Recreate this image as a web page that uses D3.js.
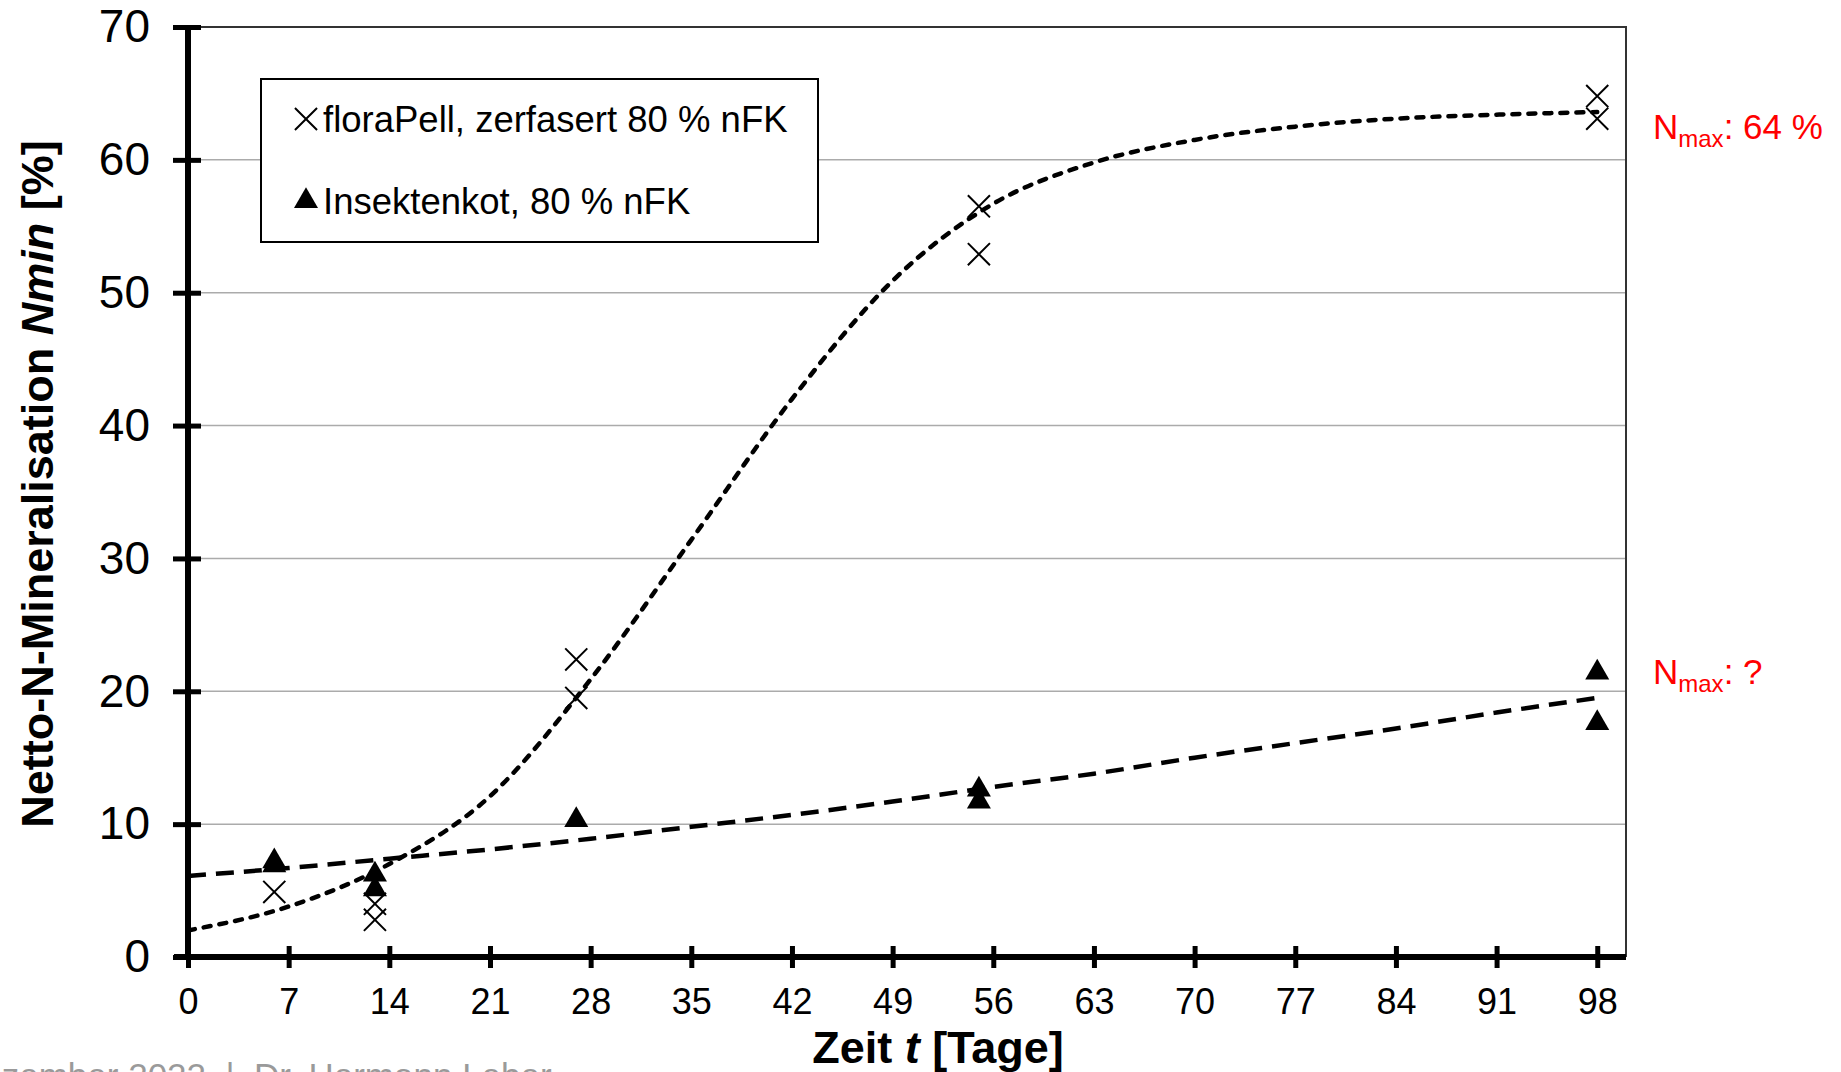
<!DOCTYPE html>
<html>
<head>
<meta charset="utf-8">
<script src="https://cdn.jsdelivr.net/npm/d3@7"></script>
<style>
  body { margin: 0; background: #fff; }
  svg { display: block; font-family: "Liberation Sans", Arial, sans-serif; }
</style>
</head>
<body>
<svg width="1841" height="1072"></svg>
<script>
// ---- Daten
const xTicks = [0, 7, 14, 21, 28, 35, 42, 49, 56, 63, 70, 77, 84, 91, 98];
const yTicks = [0, 10, 20, 30, 40, 50, 60, 70];

const floraDays   = [6, 13, 13, 27, 27, 55, 55, 98, 98];
const floraValues = [4.9, 4.0, 2.8, 22.4, 19.5, 56.5, 52.9, 64.8, 63.1];

const insektDays   = [6, 6, 13, 13, 27, 55, 55, 98, 98];
const insektValues = [7.2, 6.9, 6.2, 5.1, 10.3, 12.6, 11.7, 21.4, 17.6];

const fitDays    = [0, 7, 14, 21, 28, 35, 42, 49, 56, 63, 70, 77, 84, 91, 98];
const floraFit   = [2.0, 3.8, 7.0, 12.1, 20.9, 31.4, 42.0, 50.9, 56.7, 59.8, 61.5, 62.5, 63.1, 63.4, 63.6];
const insektFit  = [6.1, 6.7, 7.4, 8.1, 8.9, 9.8, 10.7, 11.7, 12.8, 13.8, 15.0, 16.1, 17.2, 18.4, 19.5];

const legendLabels = ['floraPell, zerfasert 80 % nFK', 'Insektenkot, 80 % nFK'];
const nmaxLabels = [': 64 %', ': ?'];
const nmaxValues = [64, 20];

const svg = d3.select('svg');
const margins = { left: 188, right: 215, top: 27, bottom: 115 };
const width = +svg.attr('width');
const height = +svg.attr('height');
const innerWidth = width - margins.left - margins.right;
const innerHeight = height - margins.top - margins.bottom;

// ---- Skalen
const mapX = d3.scaleLinear().domain([0, 100]).range([0, innerWidth]);
const mapY = d3.scaleLinear().domain([0, 70]).range([innerHeight, 0]);

const g = svg.append('g').attr('transform', `translate(${margins.left}, ${margins.top})`);

// ---- Gitterlinien
g.append('g')
  .selectAll('line')
  .data(yTicks.filter(v => v > 0 && v < 70))
  .enter().append('line')
  .attr('x1', 0).attr('x2', innerWidth)
  .attr('y1', d => mapY(d)).attr('y2', d => mapY(d))
  .attr('stroke', '#ababab').attr('stroke-width', 1.5);

// Rahmen oben/rechts
g.append('path')
  .attr('d', `M0,${mapY(70)}H${innerWidth}V${innerHeight}`)
  .attr('fill', 'none').attr('stroke', '#333').attr('stroke-width', 2);

// ---- Ausgleichskurven
const line = d3.line()
  .x(d => mapX(d[0]))
  .y(d => mapY(d[1]))
  .curve(d3.curveMonotoneX);

g.append('path')
  .datum(fitDays.map((d, i) => [d, insektFit[i]]))
  .attr('d', line)
  .attr('fill', 'none').attr('stroke', '#000')
  .attr('stroke-width', 4.5).attr('stroke-dasharray', '18,10');

g.append('path')
  .datum(fitDays.map((d, i) => [d, floraFit[i]]))
  .attr('d', line)
  .attr('fill', 'none').attr('stroke', '#000')
  .attr('stroke-width', 4.5).attr('stroke-linecap', 'round')
  .attr('stroke-dasharray', '7,9');

// ---- Messpunkte
const cross = d3.symbol().type(d3.symbolTimes).size(320);
const tri = d3.symbol().type(d3.symbolTriangle).size(250);

g.append('g')
  .selectAll('path')
  .data(floraDays.map((d, i) => [d, floraValues[i]]))
  .enter().append('path')
  .attr('d', cross)
  .attr('transform', d => `translate(${mapX(d[0])}, ${mapY(d[1])})`)
  .attr('fill', 'none').attr('stroke', '#000').attr('stroke-width', 2);

g.append('g')
  .selectAll('path')
  .data(insektDays.map((d, i) => [d, insektValues[i]]))
  .enter().append('path')
  .attr('d', tri)
  .attr('transform', d => `translate(${mapX(d[0])}, ${mapY(d[1])})`)
  .attr('fill', '#000');

// ---- Achsen
const eixoX = d3.axisBottom(mapX).tickValues(xTicks).tickSize(0).tickPadding(31);
const gx = g.append('g')
  .attr('transform', `translate(0, ${innerHeight})`)
  .call(eixoX);
gx.select('.domain').remove();
gx.selectAll('text').style('font-size', '36px').attr('fill', '#000');
gx.append('line').attr('x1', -14).attr('x2', innerWidth)
  .attr('stroke', '#000').attr('stroke-width', 6);
gx.selectAll('.tick').append('line')
  .attr('y1', -11).attr('y2', 11)
  .attr('stroke', '#000').attr('stroke-width', 5);

const eixoY = d3.axisLeft(mapY).tickValues(yTicks).tickSize(0).tickPadding(38);
const gy = g.append('g').call(eixoY);
gy.select('.domain').remove();
gy.selectAll('text').style('font-size', '46px').attr('fill', '#000');
gy.append('line').attr('y1', mapY(70)).attr('y2', innerHeight + 3)
  .attr('stroke', '#000').attr('stroke-width', 6);
gy.selectAll('.tick').append('line')
  .attr('x1', -15).attr('x2', 13)
  .attr('stroke', '#000').attr('stroke-width', 5);

// ---- Achsentitel
const tx = g.append('text')
  .attr('x', 750)
  .attr('y', innerHeight + 106)
  .attr('text-anchor', 'middle')
  .style('font-size', '45px').style('font-weight', 'bold');
tx.append('tspan').text('Zeit ');
tx.append('tspan').style('font-style', 'italic').text('t');
tx.append('tspan').text(' [Tage]');

const ty = g.append('text')
  .attr('transform', 'rotate(-90)')
  .attr('x', -innerHeight / 2 + 8)
  .attr('y', -135)
  .attr('text-anchor', 'middle')
  .style('font-size', '45px').style('font-weight', 'bold');
ty.append('tspan').text('Netto-N-Mineralisation ');
ty.append('tspan').style('font-style', 'italic').text('Nmin');
ty.append('tspan').text(' [%]');

// ---- Legende
const leg = svg.append('g').attr('transform', 'translate(261, 79)');
leg.append('rect')
  .attr('width', 557).attr('height', 163)
  .attr('fill', '#fff').attr('stroke', '#000').attr('stroke-width', 2);
leg.append('path').attr('d', cross).attr('transform', 'translate(45, 40)')
  .attr('fill', 'none').attr('stroke', '#000').attr('stroke-width', 2);
leg.append('path').attr('d', tri).attr('transform', 'translate(45, 122)')
  .attr('fill', '#000');
leg.selectAll('.leg-text')
  .data(legendLabels)
  .enter().append('text')
  .attr('class', 'leg-text')
  .attr('x', 62)
  .attr('y', (d, i) => 53 + i * 82)
  .style('font-size', '36.5px')
  .text(d => d);

// ---- Nmax-Beschriftung
nmaxLabels.forEach((lab, i) => {
  const t = g.append('text')
    .attr('x', innerWidth + 27)
    .attr('y', mapY(nmaxValues[i]) + (i === 0 ? 32 : -7))
    .attr('fill', '#ff0000')
    .style('font-size', '35px');
  t.append('tspan').text('N');
  t.append('tspan').attr('dy', 8).style('font-size', '24px').text('max');
  t.append('tspan').attr('dy', -8).text(lab);
});

// ---- Fußzeile (abgeschnitten)
svg.append('text')
  .attr('x', -43)
  .attr('y', 1088)
  .attr('fill', '#9a9a9a')
  .style('font-size', '35px')
  .text('Dezember 2022\u00A0\u00A0|\u00A0\u00A0Dr. Hermann Leber');
</script>
</body>
</html>
